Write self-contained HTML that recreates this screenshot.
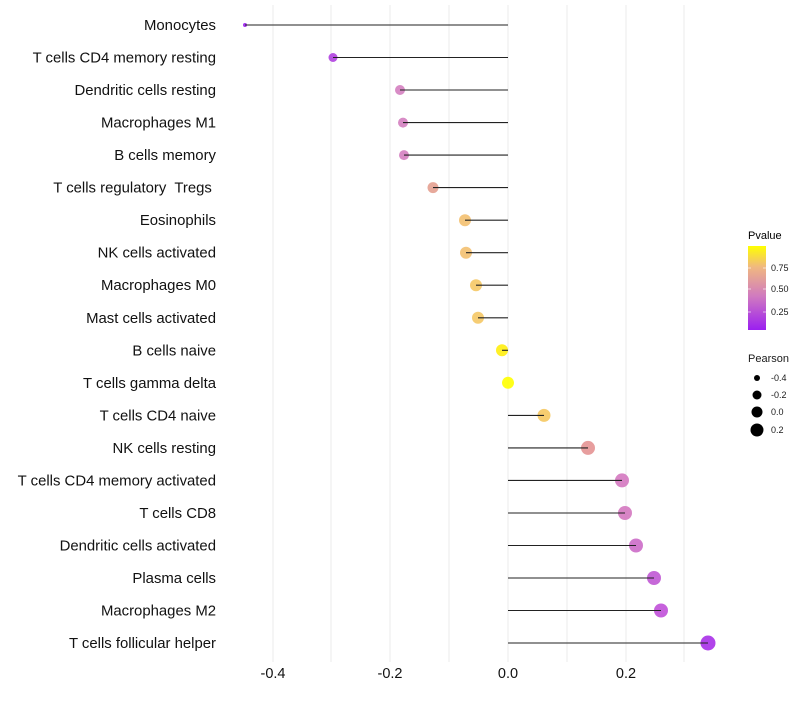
<!DOCTYPE html>
<html><head><meta charset="utf-8"><style>body{margin:0;background:#fff}</style></head><body>
<svg width="800" height="700" xmlns="http://www.w3.org/2000/svg" font-family="Liberation Sans, sans-serif">
<defs><linearGradient id="g" x1="0" y1="1" x2="0" y2="0">
<stop offset="0" stop-color="#9b1ff0"/><stop offset="0.4" stop-color="#d07ac0"/><stop offset="0.75" stop-color="#f0b880"/><stop offset="1" stop-color="#ffff00"/></linearGradient></defs>
<g stroke="#ebebeb" stroke-width="1">
<line x1="273" y1="5" x2="273" y2="662"/><line x1="331" y1="5" x2="331" y2="662"/><line x1="390" y1="5" x2="390" y2="662"/><line x1="449" y1="5" x2="449" y2="662"/><line x1="508" y1="5" x2="508" y2="662"/><line x1="567" y1="5" x2="567" y2="662"/><line x1="626" y1="5" x2="626" y2="662"/><line x1="684" y1="5" x2="684" y2="662"/>
</g>
<g fill-opacity="0.9">
<circle cx="245" cy="25" r="2" fill="#9b1ff0"/>
<circle cx="333" cy="57.5" r="4.5" fill="#b040e0"/>
<circle cx="400" cy="90" r="5" fill="#d480c0"/>
<circle cx="403" cy="122.6" r="5" fill="#d480c0"/>
<circle cx="404" cy="155.1" r="5" fill="#d480c0"/>
<circle cx="433" cy="187.6" r="5.5" fill="#e4a090"/>
<circle cx="465" cy="220.2" r="6" fill="#f3c070"/>
<circle cx="466" cy="252.7" r="6" fill="#f3c070"/>
<circle cx="476" cy="285.2" r="6" fill="#f5c865"/>
<circle cx="478" cy="317.8" r="6" fill="#f5c865"/>
<circle cx="502" cy="350.3" r="6" fill="#ffee10"/>
<circle cx="508" cy="382.8" r="6" fill="#ffff00"/>
<circle cx="544" cy="415.4" r="6.5" fill="#f5c860"/>
<circle cx="588" cy="447.9" r="7" fill="#e49494"/>
<circle cx="622" cy="480.4" r="7" fill="#d478c0"/>
<circle cx="625" cy="513" r="7" fill="#d478c0"/>
<circle cx="636" cy="545.5" r="7" fill="#cc6cc8"/>
<circle cx="654" cy="578" r="7" fill="#c058d4"/>
<circle cx="661" cy="610.5" r="7" fill="#c050d8"/>
<circle cx="708" cy="643" r="7.5" fill="#a830e8"/>
</g>
<g stroke="#222" stroke-width="1.1">
<line x1="508" y1="25" x2="245" y2="25"/>
<line x1="508" y1="57.5" x2="333" y2="57.5"/>
<line x1="508" y1="90" x2="400" y2="90"/>
<line x1="508" y1="122.6" x2="403" y2="122.6"/>
<line x1="508" y1="155.1" x2="404" y2="155.1"/>
<line x1="508" y1="187.6" x2="433" y2="187.6"/>
<line x1="508" y1="220.2" x2="465" y2="220.2"/>
<line x1="508" y1="252.7" x2="466" y2="252.7"/>
<line x1="508" y1="285.2" x2="476" y2="285.2"/>
<line x1="508" y1="317.8" x2="478" y2="317.8"/>
<line x1="508" y1="350.3" x2="502" y2="350.3"/>
<line x1="508" y1="415.4" x2="544" y2="415.4"/>
<line x1="508" y1="447.9" x2="588" y2="447.9"/>
<line x1="508" y1="480.4" x2="622" y2="480.4"/>
<line x1="508" y1="513" x2="625" y2="513"/>
<line x1="508" y1="545.5" x2="636" y2="545.5"/>
<line x1="508" y1="578" x2="654" y2="578"/>
<line x1="508" y1="610.5" x2="661" y2="610.5"/>
<line x1="508" y1="643" x2="708" y2="643"/>
</g>
<g font-size="14.9" fill="#111" text-anchor="end">
<text x="216" y="30">Monocytes</text>
<text x="216" y="62.5">T cells CD4 memory resting</text>
<text x="216" y="95">Dendritic cells resting</text>
<text x="216" y="127.6">Macrophages M1</text>
<text x="216" y="160.1">B cells memory</text>
<text x="216" y="192.6" xml:space="preserve">T cells regulatory  Tregs </text>
<text x="216" y="225.2">Eosinophils</text>
<text x="216" y="257.7">NK cells activated</text>
<text x="216" y="290.2">Macrophages M0</text>
<text x="216" y="322.8">Mast cells activated</text>
<text x="216" y="355.3">B cells naive</text>
<text x="216" y="387.8">T cells gamma delta</text>
<text x="216" y="420.4">T cells CD4 naive</text>
<text x="216" y="452.9">NK cells resting</text>
<text x="216" y="485.4">T cells CD4 memory activated</text>
<text x="216" y="518">T cells CD8</text>
<text x="216" y="550.5">Dendritic cells activated</text>
<text x="216" y="583">Plasma cells</text>
<text x="216" y="615.5">Macrophages M2</text>
<text x="216" y="648">T cells follicular helper</text>
</g>
<g font-size="14.5" fill="#111" text-anchor="middle">
<text x="273" y="678">-0.4</text><text x="390" y="678">-0.2</text><text x="508" y="678">0.0</text><text x="626" y="678">0.2</text>
</g>
<text x="748" y="239" font-size="11">Pvalue</text>
<rect x="748" y="246" width="18" height="84" fill="url(#g)"/>
<g stroke="#fff" stroke-opacity="0.6"><line x1="748" y1="268" x2="751" y2="268"/><line x1="763" y1="268" x2="766" y2="268"/><line x1="748" y1="289" x2="751" y2="289"/><line x1="763" y1="289" x2="766" y2="289"/><line x1="748" y1="312" x2="751" y2="312"/><line x1="763" y1="312" x2="766" y2="312"/></g>
<g font-size="9" fill="#1a1a1a"><text x="771" y="271">0.75</text><text x="771" y="292">0.50</text><text x="771" y="315">0.25</text>
<text x="748" y="362" font-size="11">Pearson</text>
<text x="771" y="381">-0.4</text><text x="771" y="398">-0.2</text><text x="771" y="415">0.0</text><text x="771" y="433">0.2</text></g>
<circle cx="757" cy="378" r="3"/><circle cx="757" cy="395" r="4.5"/><circle cx="757" cy="412" r="5.5"/><circle cx="757" cy="430" r="6.5"/>
</svg>
</body></html>
